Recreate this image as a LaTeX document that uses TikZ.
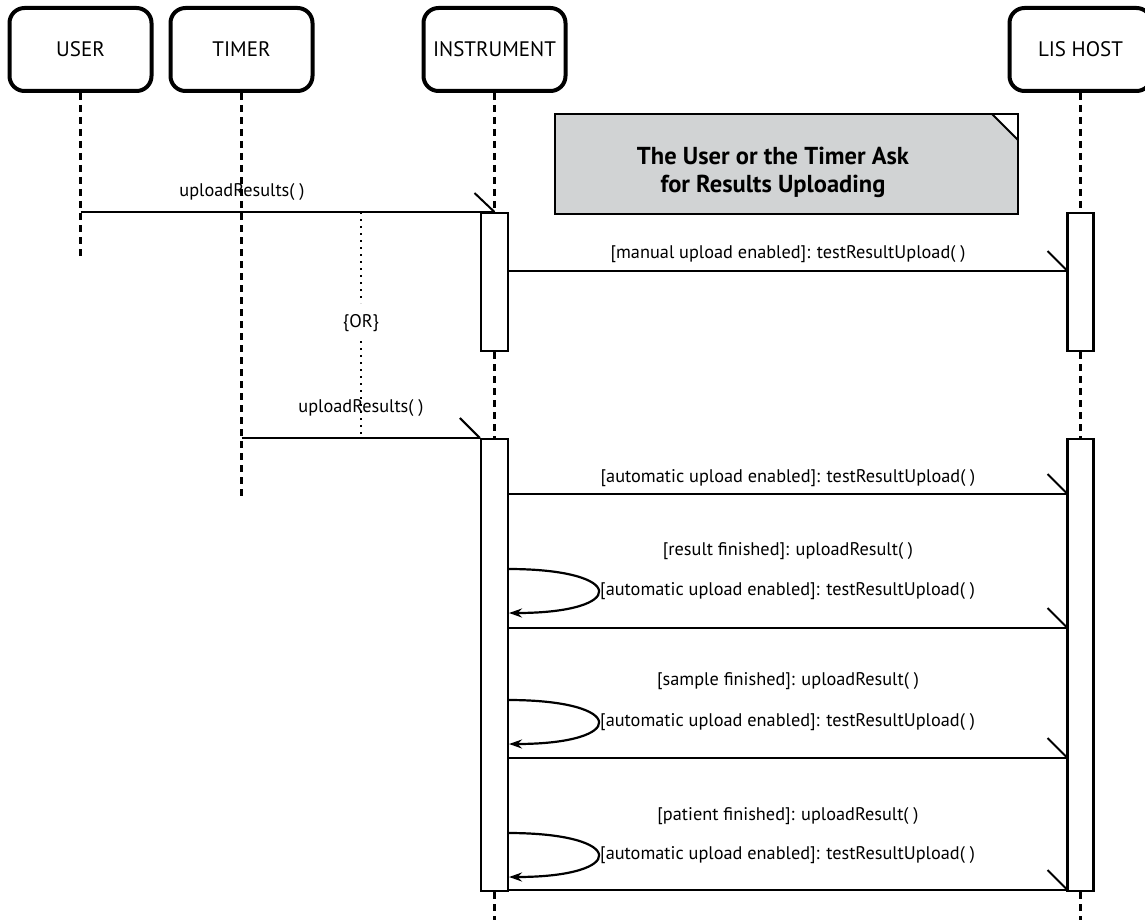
\documentclass[tikz,border=0pt]{standalone}
\usepackage{fontspec}
\setmainfont{PT Sans}
\usetikzlibrary{arrows.meta}
\definecolor{notegrey}{HTML}{D1D3D4}
\begin{document}
\begin{tikzpicture}[x=1pt,y=-1pt,
  actor/.style={draw, line width=4pt, rounded corners=15pt, minimum width=142pt, minimum height=83pt, inner sep=0pt, font=\fontsize{21}{24}\selectfont},
  life/.style={line width=2.4pt, dash pattern=on 7pt off 5pt},
  orline/.style={line width=2.2pt, dash pattern=on 2pt off 5pt},
  actbox/.style={draw, line width=2.2pt, fill=white, inner sep=0pt, anchor=north},
  msg/.style={line width=2pt},
  half/.style={line width=2pt},
  selfmsg/.style={line width=2.2pt, -{Stealth[length=13pt,width=9pt]}},
  lbl/.style={inner sep=0pt, font=\fontsize{18.3}{21}\selectfont},
  notetext/.style={inner sep=0pt, align=center, font=\bfseries\fontsize{24.5}{28}\selectfont}
]
\useasboundingbox (0,0) rectangle (1145,920);

% actors
\node[actor] (user) at (80.5,49.5) {USER};
\node[actor] (timer) at (241.5,49.5) {TIMER};
\node[actor] (inst) at (494.5,49.5) {INSTRUMENT};
\node[actor] (lis) at (1080.5,49.5) {LIS HOST};

% activation boxes
\node[actbox, minimum width=27pt, minimum height=138pt] (ia1) at (494.5,212) {};
\node[actbox, minimum width=26pt, minimum height=138pt] (la1) at (1080.5,212) {};
\node[actbox, minimum width=27pt, minimum height=452pt] (ia2) at (494.5,438) {};
\node[actbox, minimum width=26pt, minimum height=452pt] (la2) at (1080.5,438) {};

% lifeline ends
\coordinate (userend) at (80.5,256);
\coordinate (timerend) at (241.5,496);
\coordinate (instend) at (494.5,925);
\coordinate (lisend) at (1080.5,925);

\draw[life] (user.south) -- (userend);
\draw[life] (timer.south) -- (timerend);
\draw[life] (inst.south) -- (ia1.north);
\draw[life] (ia1.south) -- (ia2.north);
\draw[life] (ia2.south) -- (instend);
\draw[life] (lis.south) -- (la1.north);
\draw[life] (la1.south) -- (la2.north);
\draw[life] (la2.south) -- (lisend);

% note
\coordinate (nA) at (555,114);
\coordinate (nB) at (992,114);
\coordinate (nC) at (1018,140);
\coordinate (nD) at (1018,214);
\coordinate (nE) at (555,214);
\fill[notegrey] (nA) -- (nB) -- (nC) -- (nD) -- (nE) -- cycle;
\draw[line width=2.5pt] (nA) rectangle (nD);
\draw[line width=2pt] (nB) -- (nC);
\node[notetext] (note) at (773,172) {The User or the Timer Ask\\for Results Uploading};

% user -> instrument
\coordinate (u1) at (80.5,212);
\draw[msg] (u1) -- (ia1.north);
\draw[half] (ia1.north) -- ++(-20,-19);
\node[lbl] (l1) at (242,192) {uploadResults( )};

% OR dotted
\coordinate (d1) at (361,212);
\coordinate (d2) at (361,303);
\coordinate (d3) at (361,341);
\coordinate (d4) at (361,437);
\draw[orline] (d1) -- (d2);
\draw[orline] (d3) -- (d4);
\node[lbl] (or) at (361,323) {\{OR\}};

% timer -> instrument
\coordinate (t1) at (241.5,438);
\draw[msg] (t1) -- (ia2.north west);
\draw[half] (ia2.north west) -- ++(-20,-20);
\node[lbl] (l2) at (361,408) {uploadResults( )};

% manual upload
\coordinate (m1s) at (508,271);
\coordinate (m1e) at (1067.5,271);
\draw[msg] (m1s) -- (m1e);
\draw[half] (m1e) -- ++(-20,-20);
\node[lbl] (lm1) at (788,254) {[manual upload enabled]: testResultUpload( )};

% automatic upload
\coordinate (m2s) at (508,494);
\coordinate (m2e) at (1067.5,494);
\draw[msg] (m2s) -- (m2e);
\draw[half] (m2e) -- ++(-20,-20);
\node[lbl] (lm2) at (788,478) {[automatic upload enabled]: testResultUpload( )};

% result finished
\node[lbl] (lr) at (788,551) {[result finished]: uploadResult( )};
\coordinate (r1) at (508,569);
\coordinate (r2) at (509,613);
\draw[selfmsg] (r1) .. controls (628,569) and (628,613) .. (r2);
\node[lbl, anchor=west] (lr2) at (600,591) {[automatic upload enabled]: testResultUpload( )};
\coordinate (m3s) at (508,628);
\coordinate (m3e) at (1067.5,628);
\draw[msg] (m3s) -- (m3e);
\draw[half] (m3e) -- ++(-20,-20);

% sample finished
\node[lbl] (ls) at (788,681) {[sample finished]: uploadResult( )};
\coordinate (s1) at (508,700);
\coordinate (s2) at (509,744);
\draw[selfmsg] (s1) .. controls (628,700) and (628,744) .. (s2);
\node[lbl, anchor=west] (ls2) at (600,722) {[automatic upload enabled]: testResultUpload( )};
\coordinate (m4s) at (508,758);
\coordinate (m4e) at (1067.5,758);
\draw[msg] (m4s) -- (m4e);
\draw[half] (m4e) -- ++(-20,-20);

% patient finished
\node[lbl] (lp) at (788,816) {[patient finished]: uploadResult( )};
\coordinate (p1) at (508,833);
\coordinate (p2) at (509,877);
\draw[selfmsg] (p1) .. controls (628,833) and (628,877) .. (p2);
\node[lbl, anchor=west] (lp2) at (600,855) {[automatic upload enabled]: testResultUpload( )};
\coordinate (m5s) at (508,890);
\coordinate (m5e) at (1067.5,890);
\draw[msg] (m5s) -- (m5e);
\draw[half] (m5e) -- ++(-20,-20);
\end{tikzpicture}
\end{document}
